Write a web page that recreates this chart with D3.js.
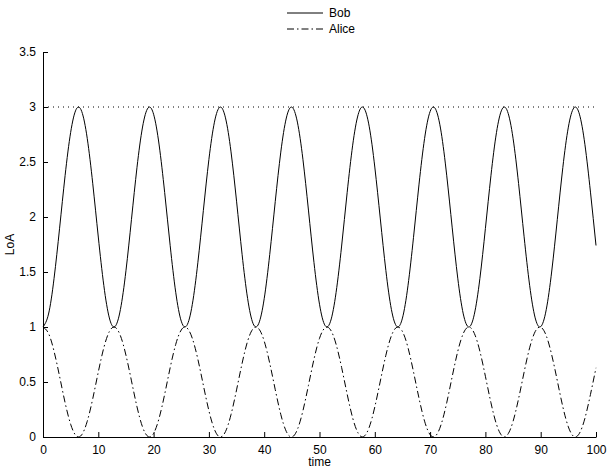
<!DOCTYPE html>
<html>
<head>
<meta charset="utf-8">
<script src="https://cdn.jsdelivr.net/npm/d3@7"></script>
<style>
  html, body { margin: 0; padding: 0; background: #fff; }
  svg { display: block; font-family: "Liberation Sans", Arial, Helvetica, sans-serif; }
</style>
</head>
<body>
<svg id="chart" width="610" height="473"></svg>
<script>
// time samples (one per time unit)
const time = d3.range(0, 101);
const bob = [
  1.000, 1.118, 1.442, 1.898, 2.378, 2.769, 2.979, 2.960, 2.715, 2.302,
  1.818, 1.377, 1.082, 1.003, 1.159, 1.511, 1.979, 2.452, 2.818, 2.992,
  2.934, 2.655, 2.223, 1.739, 1.316, 1.053, 1.013, 1.205, 1.584, 2.060,
  2.523, 2.862, 2.999, 2.901, 2.592, 2.144, 1.661, 1.259, 1.030, 1.030,
  1.257, 1.659, 2.141, 2.590, 2.900, 2.999, 2.863, 2.525, 2.063, 1.586,
  1.207, 1.014, 1.052, 1.314, 1.736, 2.221, 2.653, 2.933, 2.993, 2.820,
  2.454, 1.982, 1.514, 1.160, 1.004, 1.081, 1.375, 1.815, 2.299, 2.713,
  2.959, 2.980, 2.771, 2.380, 1.901, 1.444, 1.119, 1.000, 1.116, 1.440,
  1.896, 2.375, 2.767, 2.979, 2.960, 2.716, 2.304, 1.820, 1.379, 1.083,
  1.003, 1.157, 1.509, 1.976, 2.449, 2.817, 2.992, 2.935, 2.657, 2.226,
  1.741
];
const alice = [
  1.000, 0.941, 0.779, 0.551, 0.311, 0.116, 0.010, 0.020, 0.143, 0.349,
  0.591, 0.812, 0.959, 0.998, 0.921, 0.744, 0.510, 0.274, 0.091, 0.004,
  0.033, 0.172, 0.388, 0.631, 0.842, 0.973, 0.993, 0.897, 0.708, 0.470,
  0.239, 0.069, 0.000, 0.049, 0.204, 0.428, 0.669, 0.871, 0.985, 0.985,
  0.872, 0.671, 0.430, 0.205, 0.050, 0.000, 0.068, 0.238, 0.469, 0.707,
  0.897, 0.993, 0.974, 0.843, 0.632, 0.390, 0.173, 0.034, 0.004, 0.090,
  0.273, 0.509, 0.743, 0.920, 0.998, 0.959, 0.813, 0.592, 0.351, 0.144,
  0.021, 0.010, 0.115, 0.310, 0.550, 0.778, 0.941, 1.000, 0.942, 0.780,
  0.552, 0.312, 0.116, 0.011, 0.020, 0.142, 0.348, 0.590, 0.811, 0.958,
  0.998, 0.921, 0.745, 0.512, 0.275, 0.092, 0.004, 0.033, 0.171, 0.387,
  0.629
];
const refLevel = [3, 3];
const refTime = [0, 100];
const xTicks = [0, 10, 20, 30, 40, 50, 60, 70, 80, 90, 100];
const yTicks = [0, 0.5, 1, 1.5, 2, 2.5, 3, 3.5];
const seriesNames = ["Bob", "Alice"];

const svg = d3.select("#chart");
const margin = { left: 43, right: 14, top: 52, bottom: 36 };
const W = 610, H = 473;
const x = d3.scaleLinear().domain([0, 100]).range([margin.left, W - margin.right]);
const y = d3.scaleLinear().domain([0, 3.5]).range([H - margin.bottom, margin.top]);

const ink = "#000";

// Reference dotted line at 3
svg.append("path")
  .datum(refTime.map((t, i) => [t, refLevel[i]]))
  .attr("fill", "none").attr("stroke", ink).attr("stroke-width", 1)
  .attr("stroke-dasharray", "1,4")
  .attr("d", d3.line().x(d => x(d[0])).y(d => y(d[1])));

const lineGen = d3.line().x(d => x(d[0])).y(d => y(d[1])).curve(d3.curveNatural);

svg.append("path")
  .datum(time.map((t, i) => [t, bob[i]]))
  .attr("fill", "none").attr("stroke", ink).attr("stroke-width", 1)
  .attr("d", lineGen);

svg.append("path")
  .datum(time.map((t, i) => [t, alice[i]]))
  .attr("fill", "none").attr("stroke", ink).attr("stroke-width", 1)
  .attr("stroke-dasharray", "7,3,1.5,3")
  .attr("d", lineGen);

// Axes (MATLAB style, ticks inward)
const xAxis = d3.axisBottom(x).tickValues(xTicks).tickSizeInner(-5).tickSizeOuter(0).tickPadding(8).tickFormat(d3.format("d"));
const yAxis = d3.axisLeft(y).tickValues(yTicks).tickSizeInner(-5).tickSizeOuter(0).tickPadding(7).tickFormat(d => String(d));

const gx = svg.append("g").attr("transform", `translate(0,${y(0)})`).call(xAxis);
const gy = svg.append("g").attr("transform", `translate(${x(0)},0)`).call(yAxis);
[gx, gy].forEach(g => {
  g.selectAll("text").attr("font-size", 12).attr("fill", ink).attr("font-family", "Liberation Sans, Arial, sans-serif");
  g.selectAll("line").attr("stroke", ink);
  g.select(".domain").attr("stroke", ink);
});
gx.selectAll("text").attr("dy", "0.71em");

// Axis labels
svg.append("text").attr("x", (x(0) + x(100)) / 2).attr("y", 466)
  .attr("text-anchor", "middle").attr("font-size", 12).attr("fill", ink).text("time");
svg.append("text").attr("transform", `translate(14,${(y(0) + y(3.5)) / 2}) rotate(-90)`)
  .attr("text-anchor", "middle").attr("font-size", 12).attr("fill", ink).text("LoA");

// Legend
const legY = [13, 29];
const legDash = [null, "7,3,1.5,3"];
seriesNames.forEach((name, i) => {
  const l = svg.append("line").attr("x1", 287).attr("x2", 323).attr("y1", legY[i]).attr("y2", legY[i])
    .attr("stroke", ink).attr("stroke-width", 1);
  if (legDash[i]) l.attr("stroke-dasharray", legDash[i]);
  svg.append("text").attr("x", 329).attr("y", legY[i]).attr("dy", "0.35em")
    .attr("font-size", 12).attr("fill", ink).text(name);
});
</script>
</body>
</html>
